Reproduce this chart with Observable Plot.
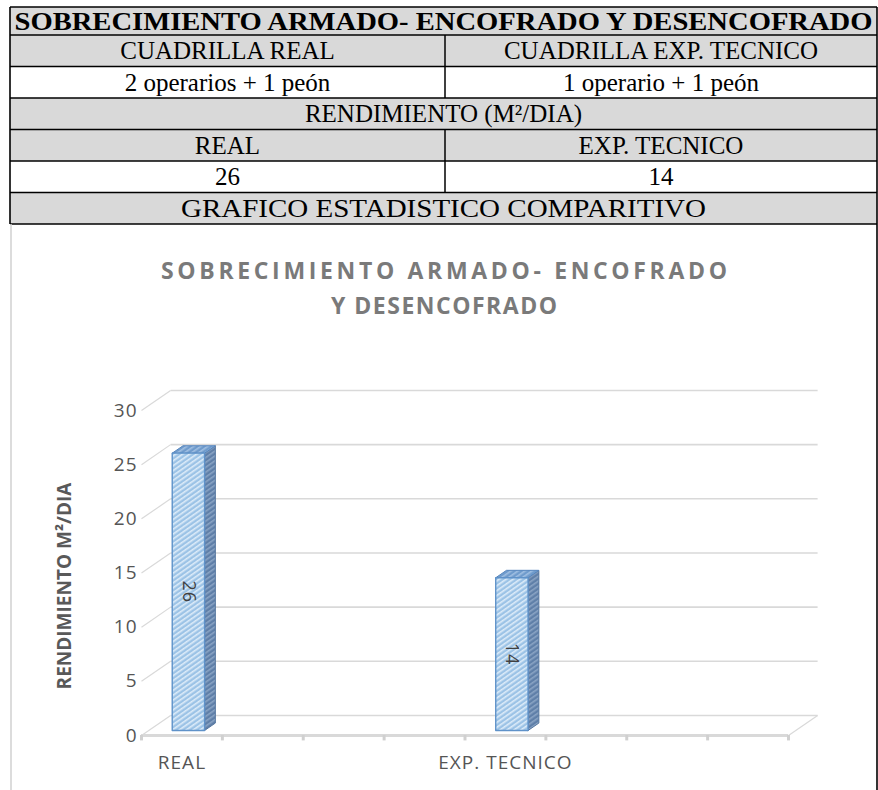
<!DOCTYPE html>
<html>
<head>
<meta charset="utf-8">
<script src="https://cdn.jsdelivr.net/npm/d3@7"></script>
<script src="https://cdn.jsdelivr.net/npm/@observablehq/plot@0.6"></script>
<style>
  html, body { margin: 0; padding: 0; background: #ffffff; }
  #root { position: relative; width: 878px; height: 790px; overflow: hidden; background: #fff; }
  #chart { position: absolute; left: 0; top: 380px; }
  #overlay { position: absolute; left: 0; top: 0; pointer-events: none; }
</style>
</head>
<body>
<div id="root">
  <svg width="0" height="0" style="position:absolute">
    <defs>
      <pattern id="hatchFront" patternUnits="userSpaceOnUse" width="4" height="4" patternTransform="rotate(-35)">
        <rect width="4" height="4" fill="#9cc3e6"></rect>
        <rect width="4" height="1.6" fill="#ddecf9"></rect>
      </pattern>
      <pattern id="hatchSide" patternUnits="userSpaceOnUse" width="4" height="4" patternTransform="rotate(-35)">
        <rect width="4" height="4" fill="#5f7fa8"></rect>
        <rect width="4" height="1.6" fill="#8aa4c4"></rect>
      </pattern>
      <pattern id="hatchTop" patternUnits="userSpaceOnUse" width="4" height="4" patternTransform="rotate(-35)">
        <rect width="4" height="4" fill="#6f9bcc"></rect>
        <rect width="4" height="1.6" fill="#a0bfe2"></rect>
      </pattern>
    </defs>
  </svg>
  <div id="chart"></div>
  <svg id="overlay" width="878" height="790"></svg>
</div>
<script>
// ---------- data ----------
const tableTitle = "SOBRECIMIENTO ARMADO- ENCOFRADO Y DESENCOFRADO";
const crewHeaders = ["CUADRILLA REAL", "CUADRILLA EXP. TECNICO"];
const crews = ["2 operarios + 1 peón", "1 operario + 1 peón"];
const performanceHeader = "RENDIMIENTO (M²/DIA)";
const categories = ["REAL", "EXP. TECNICO"];
const tableValues = [26, 14];
const sectionTitle = "GRAFICO ESTADISTICO COMPARITIVO";
const chartTitleLines = ["SOBRECIMIENTO ARMADO- ENCOFRADO", "Y DESENCOFRADO"];
const yAxisTitle = "RENDIMIENTO M²/DIA";
const barValues = [25.6, 14.1];      // bar heights as drawn (labels show 26 and 14)
const categorySlots = [0, 4];        // position of each category on the category axis
const slotCount = 8;                 // number of category slots on the axis
const yTicks = [0, 5, 10, 15, 20, 25, 30];

// ---------- table + titles (overlay) ----------
const ov = d3.select("#overlay");
const tableLeft = 10, tableRight = 877, midX = 445;
const rowLines = [7, 35, 66.5, 98, 129.5, 161, 192.5, 224];
const rows = [
  {cells: [tableTitle], fill: "#d9d9d9", bold: true},
  {cells: crewHeaders, fill: "#d9d9d9"},
  {cells: crews, fill: "#ffffff"},
  {cells: [performanceHeader], fill: "#d9d9d9"},
  {cells: categories, fill: "#d9d9d9"},
  {cells: tableValues.map(String), fill: "#ffffff"},
  {cells: [sectionTitle], fill: "#d9d9d9", spread: 525}
];
const serif = "'Liberation Serif', 'Times New Roman', serif";
rows.forEach((r, i) => {
  const y0 = rowLines[i], y1 = rowLines[i + 1];
  ov.append("rect").attr("x", tableLeft).attr("y", y0).attr("width", tableRight - tableLeft).attr("height", y1 - y0).attr("fill", r.fill);
  const mid = (y0 + y1) / 2;
  if (r.cells.length === 1) {
    const t = ov.append("text").attr("x", (tableLeft + tableRight) / 2).attr("y", mid).attr("dy", "0.34em")
      .attr("text-anchor", "middle").attr("font-family", serif)
      .attr("font-size", r.bold ? 26 : 25).attr("font-weight", r.bold ? "bold" : "normal").attr("fill", "#000").text(r.cells[0]);
    if (r.bold) t.attr("textLength", 858).attr("lengthAdjust", "spacingAndGlyphs");
    if (r.spread) t.attr("textLength", r.spread).attr("lengthAdjust", "spacingAndGlyphs");
  } else {
    ov.append("line").attr("x1", midX).attr("x2", midX).attr("y1", y0).attr("y2", y1).attr("stroke", "#000").attr("stroke-width", 1.5);
    [(tableLeft + midX) / 2, (midX + tableRight) / 2].forEach((cx, j) => {
      ov.append("text").attr("x", cx).attr("y", mid).attr("dy", "0.34em").attr("text-anchor", "middle")
        .attr("font-family", serif).attr("font-size", 25).attr("fill", "#000").text(r.cells[j]);
    });
  }
});
rowLines.forEach(y => {
  ov.append("line").attr("x1", tableLeft).attr("x2", tableRight).attr("y1", y).attr("y2", y).attr("stroke", "#000").attr("stroke-width", 1.6);
});
const tableTop = rowLines[0], tableBottom = rowLines[rowLines.length - 1];
ov.append("line").attr("x1", tableLeft).attr("x2", tableLeft).attr("y1", tableTop).attr("y2", tableBottom).attr("stroke", "#000").attr("stroke-width", 1.6);
ov.append("line").attr("x1", tableRight).attr("x2", tableRight).attr("y1", tableTop).attr("y2", 790).attr("stroke", "#000").attr("stroke-width", 1.6);
ov.append("line").attr("x1", 11).attr("x2", 11).attr("y1", tableBottom).attr("y2", 790).attr("stroke", "#d0d0d0").attr("stroke-width", 1.5);

// chart title
const titleY = [271, 306], titleLen = [566, 226];
chartTitleLines.forEach((s, i) => {
  ov.append("text").attr("x", 444).attr("y", titleY[i]).attr("dy", "0.36em").attr("text-anchor", "middle")
    .attr("font-family", "'Open Sans', sans-serif").attr("font-weight", "bold").attr("font-size", 23)
    .attr("fill", "#7a7a7a").attr("textLength", titleLen[i]).attr("lengthAdjust", "spacing").text(s);
});
// y axis title
ov.append("text").attr("transform", "translate(64,586) rotate(-90)").attr("dy", "0.36em").attr("text-anchor", "middle")
  .attr("font-family", "'Open Sans', sans-serif").attr("font-weight", "bold").attr("font-size", 19)
  .attr("fill", "#595959").text(yAxisTitle);

// ---------- 3D-ish column chart ----------
const depthX = 0.36, depthY = 1.85;            // oblique depth offset of the back wall (data units)
const proj = (x, y, d) => [x + d * depthX, y + d * depthY];
const barGeom = {x0: 0.29, x1: 0.69, f0: 0.25, f1: 0.62};
const bars = categories.map((c, i) => ({category: c, slot: categorySlots[i], value: barValues[i], label: tableValues[i]}));

function faces(kind) {
  const pts = [];
  bars.forEach(b => {
    const xa = b.slot + barGeom.x0, xb = b.slot + barGeom.x1, v = b.value, f0 = barGeom.f0, f1 = barGeom.f1;
    let poly;
    if (kind === "front") poly = [[xa, 0, f0], [xb, 0, f0], [xb, v, f0], [xa, v, f0]];
    else if (kind === "side") poly = [[xb, 0, f0], [xb, 0, f1], [xb, v, f1], [xb, v, f0]];
    else poly = [[xa, v, f0], [xb, v, f0], [xb, v, f1], [xa, v, f1]];
    poly.push(poly[0]);
    poly.forEach(([x, y, d]) => { const [px, py] = proj(x, y, d); pts.push({id: b.category, x: px, y: py}); });
  });
  return pts;
}
const slotEdges = d3.range(slotCount + 1);

const chart = Plot.plot({
  width: 878,
  height: 410,
  marginLeft: 141,
  marginRight: 90,
  marginTop: 30,
  marginBottom: 55,
  style: "font-family: 'Open Sans', sans-serif; font-size: 19px; color: #555555; background: none; overflow: visible; letter-spacing: 1px;",
  x: {domain: [0, slotCount], ticks: categorySlots.map(s => s + 0.5), tickFormat: d => categories[categorySlots.indexOf(d - 0.5)], tickSize: 0, tickPadding: 20, label: null},
  y: {domain: [0, 30], ticks: yTicks, tickSize: 0, tickPadding: 4, label: null},
  marks: [
    // back wall gridlines
    Plot.link(yTicks, {x1: v => proj(0, v, 1)[0], y1: v => proj(0, v, 1)[1], x2: v => proj(slotCount, v, 1)[0], y2: v => proj(slotCount, v, 1)[1], stroke: "#d9d9d9", strokeWidth: 1.6}),
    // side wall depth lines
    Plot.link(yTicks, {x1: 0, y1: v => v, x2: v => proj(0, v, 1)[0], y2: v => proj(0, v, 1)[1], stroke: "#d9d9d9", strokeWidth: 1.2}),
    // floor right edge
    Plot.link([0], {x1: slotCount, y1: 0, x2: proj(slotCount, 0, 1)[0], y2: proj(slotCount, 0, 1)[1], stroke: "#d9d9d9", strokeWidth: 1.2}),
    // category axis line + ticks
    Plot.ruleY([0], {x1: 0, x2: slotCount, stroke: "#d9d9d9", strokeWidth: 3}),
    Plot.ruleX(slotEdges, {y1: 0, y2: -0.5, stroke: "#d0d0d0", strokeWidth: 3}),
    // bars
    Plot.line(faces("side"), {x: "x", y: "y", z: "id", fill: "url(#hatchSide)", stroke: "#55769f", strokeWidth: 1, curve: "linear", strokeLinejoin: "miter"}),
    Plot.line(faces("top"), {x: "x", y: "y", z: "id", fill: "url(#hatchTop)", stroke: "#5585bd", strokeWidth: 1, curve: "linear", strokeLinejoin: "miter"}),
    Plot.line(faces("front"), {x: "x", y: "y", z: "id", fill: "url(#hatchFront)", stroke: "#5f92c9", strokeWidth: 1.4, curve: "linear", strokeLinejoin: "miter"}),
    // value labels
    Plot.text(bars, {
      x: b => proj(b.slot + (barGeom.x0 + barGeom.x1) / 2, b.value / 2, barGeom.f0)[0],
      y: b => proj(b.slot + (barGeom.x0 + barGeom.x1) / 2, b.value / 2, barGeom.f0)[1],
      text: b => String(b.label), rotate: 90, fontSize: 18, fill: "#404040"
    })
  ]
});
document.getElementById("chart").appendChild(chart);
</script>
</body>
</html>
